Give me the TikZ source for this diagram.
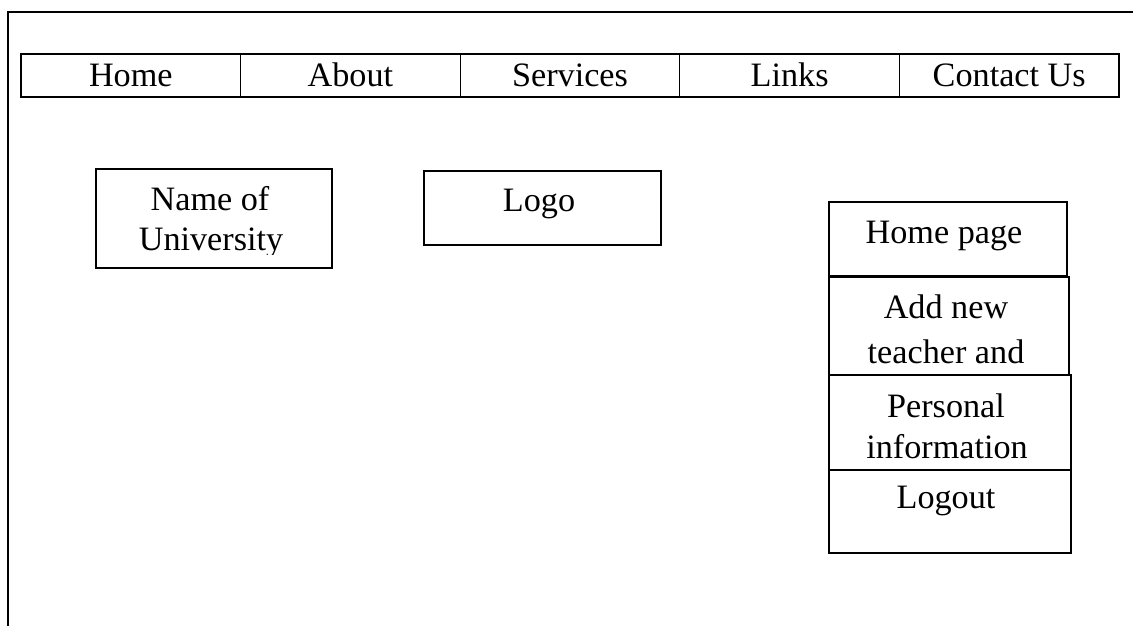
\documentclass[tikz,border=0pt]{standalone}
\usepackage{fontspec}
\setmainfont{Liberation Serif}
\begin{document}
\begin{tikzpicture}[x=1pt,y=-1pt,
  box/.style={draw, line width=1.2pt, rectangle, inner sep=0pt, outer sep=0pt},
  lbl/.style={font=\fontsize{34.2}{40}\selectfont, anchor=base, inner sep=0pt}]
\useasboundingbox (0,0) rectangle (1133,626);
\coordinate (fbl) at (8,626);
\coordinate (ftl) at (8,12);
\coordinate (ftr) at (1133,12);
\draw[line width=1.4pt] (fbl) -- (ftl) -- (ftr);
% navigation bar
\foreach \i/\t in {0/Home,1/About,2/Services,3/Links,4/Contact Us}{
  \node[box, minimum width=219.6pt, minimum height=43pt] (nav\i) at ({130.8+219.6*\i},75.5) {};
  \node[lbl] (navt\i) at ({130.8+219.6*\i},87) {\t};
}
% name of university
\node[box, minimum width=236pt, minimum height=99pt] (name) at (214,218.5) {};
\node[lbl] (namet1) at (210,210) {Name of};
\begin{scope}
  \clip (96,169) rectangle (332,254);
  \node[lbl] (namet2) at (211,250) {University};
\end{scope}
% logo
\node[box, minimum width=237pt, minimum height=74pt] (logo) at (542.5,208) {};
\node[lbl] (logot) at (539,211) {Logo};
% side menu
\node[box, minimum width=238pt, minimum height=74pt] (home) at (948,239) {};
\node[lbl] (homet) at (944,243) {Home page};
\node[box, minimum width=240pt, minimum height=98pt] (add) at (949,326) {};
\node[lbl] (addt1) at (946,318) {Add new};
\node[lbl] (addt2) at (946,363) {teacher and};
\node[box, minimum width=242pt, minimum height=95pt] (pers) at (950,422.5) {};
\node[lbl] (perst1) at (946,417) {Personal};
\node[lbl] (perst2) at (947,458) {information};
\node[box, minimum width=242pt, minimum height=83pt] (logout) at (950,511.5) {};
\node[lbl] (logoutt) at (946,508) {Logout};
\end{tikzpicture}
\end{document}
